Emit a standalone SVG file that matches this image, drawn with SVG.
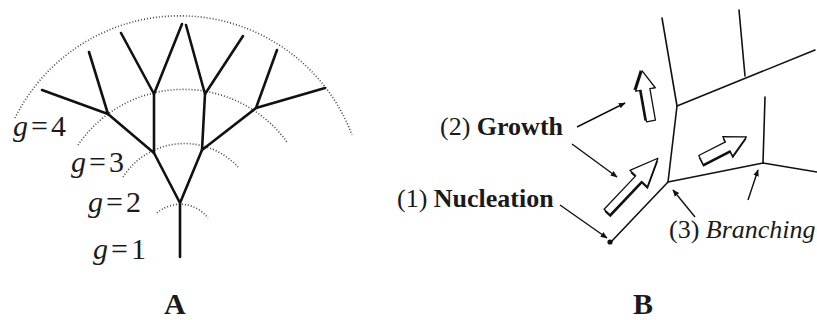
<svg xmlns="http://www.w3.org/2000/svg" width="817" height="320" viewBox="0 0 817 320">
<style>
.t{font-family:"Liberation Serif","Times New Roman",serif;fill:#1a1a1a}
.g{font-size:30px;letter-spacing:3px}
.lb{font-size:26px}
.br{fill:none;stroke:#111;stroke-width:2.6;stroke-linecap:round;stroke-linejoin:round}
.dot{fill:none;stroke:#444;stroke-width:1.6;stroke-dasharray:1 2}
.ln{fill:none;stroke:#111;stroke-width:1.6;stroke-linecap:round;stroke-linejoin:round}
.ar{fill:none;stroke:#111;stroke-width:1.4;marker-end:url(#ah)}
.ba{fill:#fff;stroke:#111;stroke-width:1.3;stroke-linejoin:round}
.bs{fill:#111}
</style>
<defs>
<marker id="ah" viewBox="0 0 10 10" refX="9" refY="5" markerWidth="7" markerHeight="7" orient="auto" markerUnits="userSpaceOnUse">
<path d="M0,1 L10,5 L0,9 Z" fill="#111"/>
</marker>
</defs>
<rect width="817" height="320" fill="#fff"/>

<g id="panelA">
<g id="arcs">
<path class="dot" d="M15,118 A184,184 0 0 1 352,135"/>
<path class="dot" d="M78,145 A128,128 0 0 1 287,142"/>
<path class="dot" d="M123,177 A73,73 0 0 1 238,167"/>
<path class="dot" d="M157,213 A35,35 0 0 1 208,218"/>
</g>
<g id="tree">
<path class="br" d="M180,257 L180,203 M180,203 L154,153 M180,203 L202,150"/>
<path class="br" d="M154,153 L154,94 M154,153 L108,114"/>
<path class="br" d="M108,114 L42,90 M108,114 L89,52"/>
<path class="br" d="M154,94 L121,33 M154,94 L182,24"/>
<path class="br" d="M202,150 L205,94 M202,150 L256,108"/>
<path class="br" d="M205,94 L186,25 M205,94 L243,36"/>
<path class="br" d="M256,108 L277,50 M256,108 L325,88"/>
</g>
<g id="glabels">
<text class="t g" x="13" y="136"><tspan font-style="italic">g</tspan>=4</text>
<text class="t g" x="71" y="172"><tspan font-style="italic">g</tspan>=3</text>
<text class="t g" x="88" y="212"><tspan font-style="italic">g</tspan>=2</text>
<text class="t g" x="93" y="259"><tspan font-style="italic">g</tspan>=1</text>
</g>
<text id="labelA" class="t" x="164" y="314" font-size="30" font-weight="bold">A</text>
</g>

<g id="panelB">
<g id="network">
<path class="ln" d="M662,18 L677,106 L668,182 L610,243"/>
<path class="ln" d="M677,106 L815,50 M745,76 L739,10"/>
<path class="ln" d="M668,182 L763,163 L817,172 M763,163 L765,97"/>
<circle cx="610" cy="242" r="2.6" fill="#111"/>
</g>
<g id="blockArrows">
<g transform="translate(651,121) rotate(-100)">
<polygon class="bs" transform="translate(1.5,-2)" points="0,-4.5 32,-4.5 32,-10 51,0 32,10 32,4.5 0,4.5"/>
<polygon class="ba" points="0,-4.5 32,-4.5 32,-10 51,0 32,10 32,4.5 0,4.5"/>
</g>
<g transform="translate(607,212) rotate(-46.6)">
<polygon class="bs" transform="translate(-1.5,2)" points="0,-4 46,-4 46,-12 74,0 46,12 46,4 0,4"/>
<polygon class="ba" points="0,-4 46,-4 46,-12 74,0 46,12 46,4 0,4"/>
</g>
<g transform="translate(701,160) rotate(-27)">
<polygon class="bs" transform="translate(-1,2)" points="0,-5 30,-5 30,-11 51,0 30,11 30,5 0,5"/>
<polygon class="ba" points="0,-5 30,-5 30,-11 51,0 30,11 30,5 0,5"/>
</g>
</g>
<g id="connectors">
<path class="ar" d="M577,127 L625,103"/>
<path class="ar" d="M572,144 L617,177"/>
<path class="ar" d="M560,205 L607,238"/>
<path class="ar" d="M695,217 L673,190"/>
<path class="ar" d="M748,200 L758,170"/>
</g>
<g id="labels">
<text class="t lb" x="440" y="135">(2) <tspan font-weight="bold">Growth</tspan></text>
<text class="t lb" x="397" y="207">(1) <tspan font-weight="bold">Nucleation</tspan></text>
<text class="t lb" x="669" y="238">(3) <tspan font-style="italic">Branching</tspan></text>
</g>
<text id="labelB" class="t" x="633" y="314" font-size="30" font-weight="bold">B</text>
</g>
</svg>
